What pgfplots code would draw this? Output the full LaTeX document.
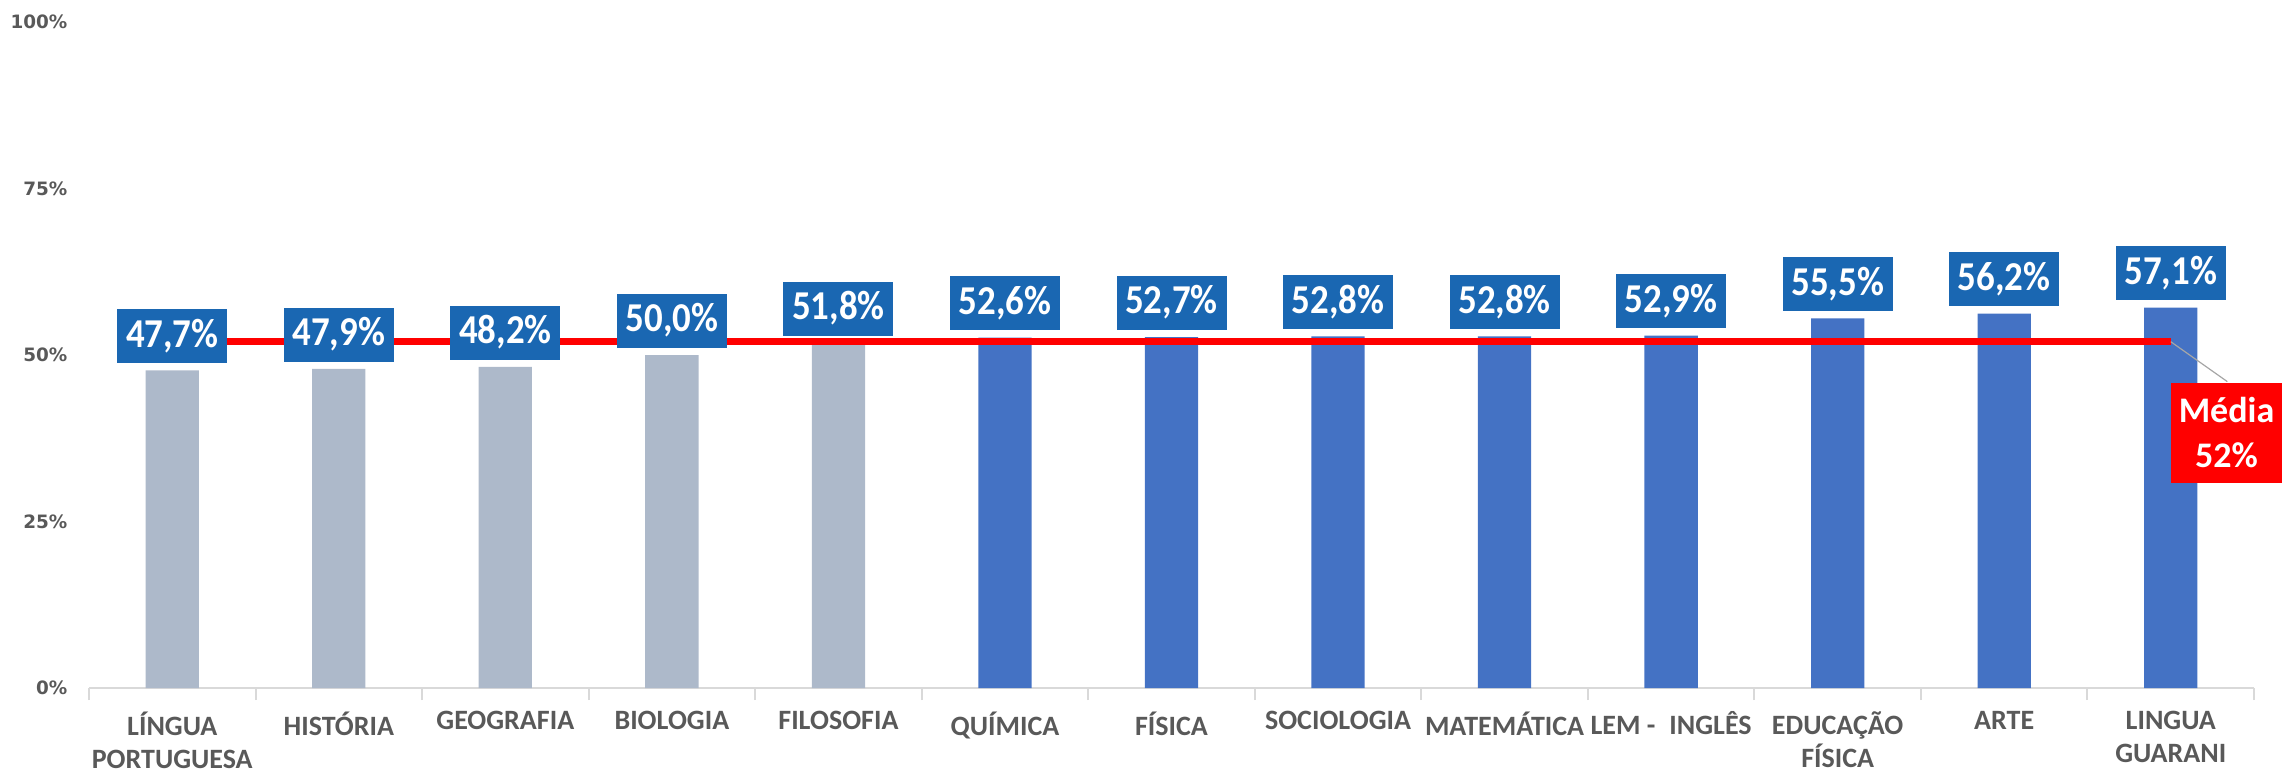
\documentclass[border=0pt]{standalone}
\usepackage{pgfplots}
\pgfplotsset{compat=1.18}
\usepackage{fontspec}
\setmainfont{Carlito}
\newfontfamily\labfont{Carlito}[FakeStretch=0.9]
\newfontfamily\yfont{DejaVu Sans}
\definecolor{barGray}{HTML}{ADB9CA}
\definecolor{barBlue}{HTML}{4472C4}
\definecolor{labBlue}{HTML}{1A67B2}
\definecolor{tickGray}{HTML}{595959}
\definecolor{axisGray}{HTML}{D9D9D9}
\begin{document}
\begin{tikzpicture}
\path[use as bounding box] (-44.5pt,-42.5pt) rectangle (1096.5pt,344pt);
\begin{axis}[
    scale only axis,
    width=1082.5pt, height=333pt,
    xmin=-0.5, xmax=12.5,
    ymin=0, ymax=100,
    clip=false,
    axis x line*=bottom,
    axis y line*=left,
    y axis line style={draw=none},
    x axis line style={draw=axisGray, line width=1pt, -},
    ytick={0,25,50,75,100},
    yticklabels={0\%,25\%,50\%,75\%,100\%},
    ytick style={draw=none},
    yticklabel style={anchor=east, xshift=-3pt, font=\yfont\bfseries\fontsize{9.2}{11}\selectfont, text=tickGray},
    xtick={0,...,12},
    major x tick style={draw=none},
    minor xtick={-0.5,0.5,...,12.5},
    minor x tick style={draw=axisGray, line width=1pt},
    minor tick length=6pt,
    tick align=outside,
    xticklabels={L\'INGUA\\PORTUGUESA, HIST\'ORIA, GEOGRAFIA, BIOLOGIA, FILOSOFIA, QU\'IMICA, F\'ISICA, SOCIOLOGIA, MATEM\'ATICA, LEM -\enspace INGL\^ES, EDUCA\c{C}\~AO\\F\'ISICA, ARTE, LINGUA\\GUARANI},
    xticklabel style={anchor=north, yshift=-4pt, align=center, font=\bfseries\fontsize{14}{16.5}\selectfont, text=tickGray},
    /pgf/number format/assume math mode=true,
]
% bars below the mean
\addplot[ybar, bar width=0.32, bar shift=0pt, fill=barGray, draw=none] coordinates {
    (0,47.7) (1,47.9) (2,48.2) (3,50.0) (4,51.8)
};
% bars above the mean
\addplot[ybar, bar width=0.32, bar shift=0pt, fill=barBlue, draw=none] coordinates {
    (5,52.6) (6,52.7) (7,52.8) (8,52.8) (9,52.9) (10,55.5) (11,56.2) (12,57.1)
};
% mean line
\addplot[red, line width=3.5pt, mark=none] coordinates {(0,52) (12,52)};
% value labels
\addplot[draw=none, mark=none, point meta=y,
    nodes near coords={\pgfmathprintnumber[fixed,fixed zerofill,precision=1,use comma]{\pgfplotspointmeta}\%},
    nodes near coords style={anchor=south, yshift=3.5pt, fill=labBlue, text=white,
        font=\labfont\bfseries\fontsize{20.5}{24}\selectfont,
        minimum width=55pt, minimum height=27pt, inner sep=0pt},
] coordinates {
    (0,47.7) (1,47.9) (2,48.2) (3,50.0) (4,51.8) (5,52.6) (6,52.7)
    (7,52.8) (8,52.8) (9,52.9) (10,55.5) (11,56.2) (12,57.1)
};
\draw[gray!70, line width=0.6pt] (axis cs:12,52) -- (axis cs:12.34,46);
\node[fill=red, text=white, align=center, font=\bfseries\fontsize{18}{22.5}\selectfont,
    minimum width=56pt, minimum height=50pt, inner sep=0pt]
    at (axis cs:12.335,38.3) {M\'edia\\52\%};
\end{axis}
\end{tikzpicture}
\end{document}
